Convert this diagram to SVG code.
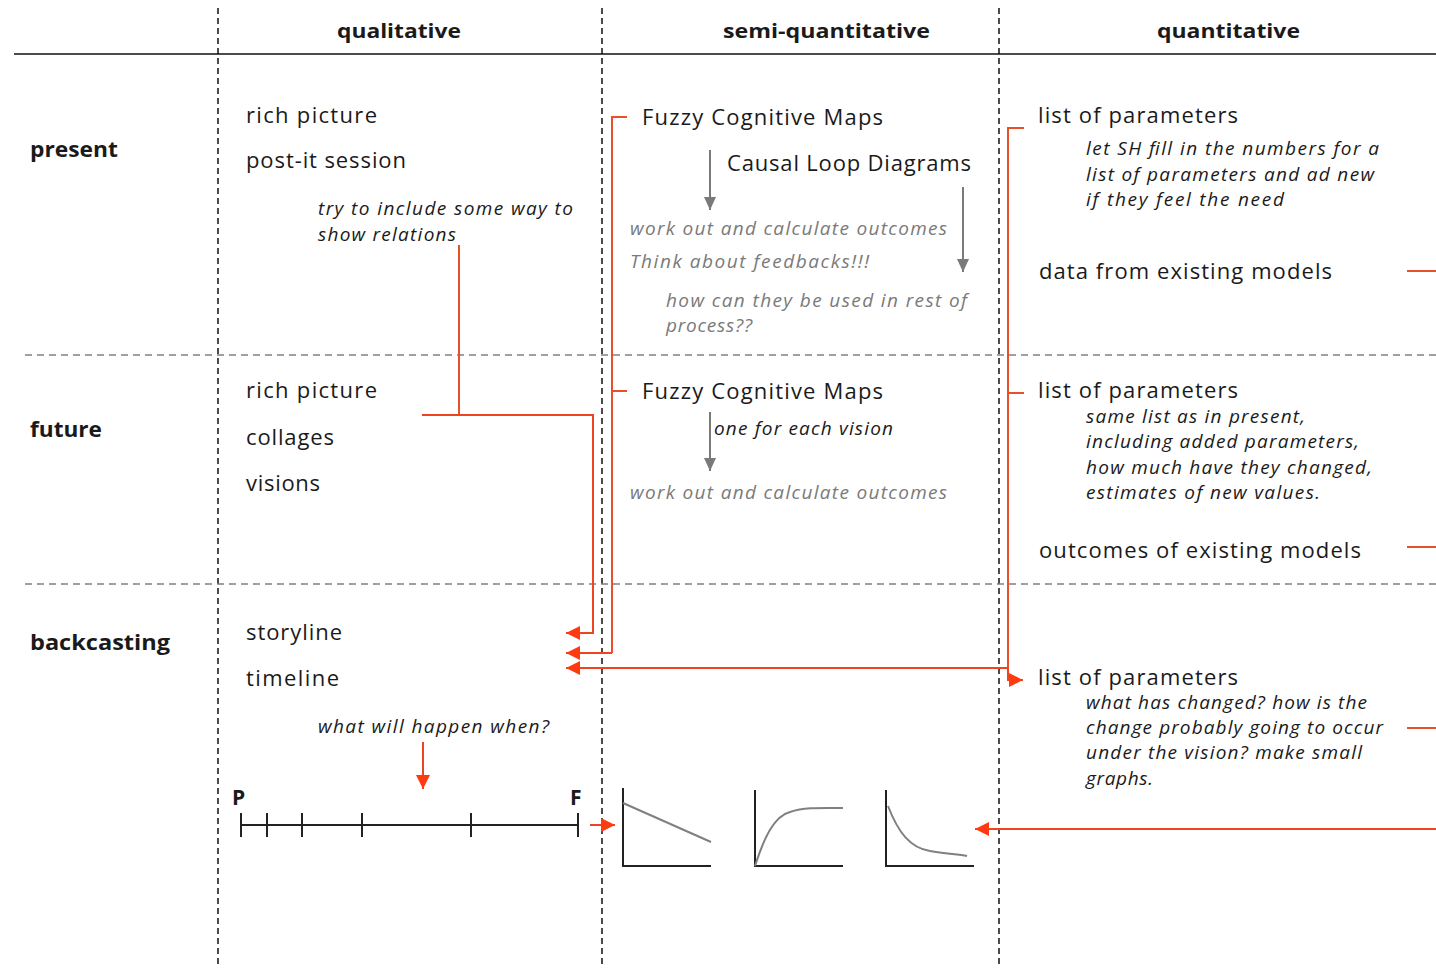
<svg xmlns="http://www.w3.org/2000/svg" width="1436" height="968" viewBox="0 0 1436 968">
  <style>
    text { font-family: "Open Sans", "Liberation Sans", sans-serif; fill: #1a1a1a; }
    .hd { font-size: 20px; font-weight: 700; }
    .row { font-size: 21px; font-weight: 700; }
    .item { font-size: 22px; }
    .note { font-size: 19px; font-style: italic; }
    .gray { fill: #7a7a7a; }
    .tl { font-size: 21px; font-weight: 700; }
    .col { stroke: #111; stroke-width: 1.5; stroke-dasharray: 6 4; fill: none; }
    .sep { stroke: #808080; stroke-width: 1.5; stroke-dasharray: 7 5; fill: none; }
    .wire { stroke: #e8502a; stroke-width: 2; fill: none; }
    .arrow { stroke: #ee4422; stroke-width: 2; fill: none; marker-end: url(#headRed); }
    .garrow { stroke: #7a7a7a; stroke-width: 2; fill: none; marker-end: url(#headGray); }
    .axis { stroke: #222; stroke-width: 2; fill: none; }
    .curve { stroke: #808080; stroke-width: 2; fill: none; }
  </style>
  <defs>
    <marker id="headRed" markerUnits="userSpaceOnUse" markerWidth="16" markerHeight="14" refX="14" refY="7" orient="auto">
      <path d="M0,0 L14,7 L0,14 Z" fill="#ff3a10"/>
    </marker>
    <marker id="headGray" markerUnits="userSpaceOnUse" markerWidth="15" markerHeight="14" refX="13" refY="7" orient="auto">
      <path d="M0,1 L13,7 L0,13 Z" fill="#7a7a7a"/>
    </marker>
  </defs>

  <rect width="1436" height="968" fill="#ffffff"/>

  <!-- grid: header rule, column and row separators -->
  <g id="grid">
    <line x1="14" y1="54" x2="1436" y2="54" stroke="#111" stroke-width="1.5"/>
    <line class="col" x1="218" y1="8" x2="218" y2="968"/>
    <line class="col" x1="602" y1="8" x2="602" y2="968"/>
    <line class="col" x1="999" y1="8" x2="999" y2="968"/>
    <line class="sep" x1="25" y1="355" x2="1436" y2="355"/>
    <line class="sep" x1="25" y1="584" x2="1436" y2="584"/>
  </g>

  <!-- column and row headings -->
  <g id="headings">
    <text class="hd" x="337" y="38" textLength="124" lengthAdjust="spacingAndGlyphs">qualitative</text>
    <text class="hd" x="723" y="38" textLength="207" lengthAdjust="spacingAndGlyphs">semi-quantitative</text>
    <text class="hd" x="1157" y="38" textLength="143" lengthAdjust="spacingAndGlyphs">quantitative</text>
    <text class="row" x="30" y="157" textLength="88" lengthAdjust="spacingAndGlyphs">present</text>
    <text class="row" x="30" y="437" textLength="72" lengthAdjust="spacingAndGlyphs">future</text>
    <text class="row" x="30" y="650" textLength="140" lengthAdjust="spacingAndGlyphs">backcasting</text>
  </g>

  <!-- present / qualitative -->
  <g id="present-qualitative">
    <text class="item" x="246" y="123" textLength="131" lengthAdjust="spacing">rich picture</text>
    <text class="item" x="246" y="168" textLength="160" lengthAdjust="spacing">post-it session</text>
    <text class="note" x="318" y="215" textLength="255" lengthAdjust="spacing">try to include some way to</text>
    <text class="note" x="318" y="241" textLength="138" lengthAdjust="spacing">show relations</text>
  </g>

  <!-- present / semi-quantitative -->
  <g id="present-semi">
    <text class="item" x="642" y="125" textLength="241" lengthAdjust="spacing">Fuzzy Cognitive Maps</text>
    <text class="item" x="727" y="171" textLength="244" lengthAdjust="spacing">Causal Loop Diagrams</text>
    <text class="note gray" x="630" y="235" textLength="317" lengthAdjust="spacing">work out and calculate outcomes</text>
    <text class="note gray" x="630" y="268" textLength="239" lengthAdjust="spacing">Think about feedbacks!!!</text>
    <text class="note gray" x="666" y="307" textLength="301" lengthAdjust="spacing">how can they be used in rest of</text>
    <text class="note gray" x="666" y="332" textLength="86" lengthAdjust="spacing">process??</text>
    <line class="garrow" x1="710" y1="150" x2="710" y2="210"/>
    <line class="garrow" x1="963" y1="187" x2="963" y2="272"/>
  </g>

  <!-- present / quantitative -->
  <g id="present-quant">
    <text class="item" x="1038" y="123" textLength="200" lengthAdjust="spacing">list of parameters</text>
    <text class="note" x="1086" y="155" textLength="293" lengthAdjust="spacing">let SH fill in the numbers for a</text>
    <text class="note" x="1086" y="181" textLength="288" lengthAdjust="spacing">list of parameters and ad new</text>
    <text class="note" x="1086" y="206" textLength="198" lengthAdjust="spacing">if they feel the need</text>
    <text class="item" x="1039" y="279" textLength="293" lengthAdjust="spacing">data from existing models</text>
  </g>

  <!-- future / qualitative -->
  <g id="future-qualitative">
    <text class="item" x="246" y="398" textLength="131" lengthAdjust="spacing">rich picture</text>
    <text class="item" x="246" y="445" textLength="88" lengthAdjust="spacing">collages</text>
    <text class="item" x="246" y="491" textLength="74" lengthAdjust="spacing">visions</text>
  </g>

  <!-- future / semi-quantitative -->
  <g id="future-semi">
    <text class="item" x="642" y="399" textLength="241" lengthAdjust="spacing">Fuzzy Cognitive Maps</text>
    <text class="note" x="714" y="435" textLength="179" lengthAdjust="spacing">one for each vision</text>
    <text class="note gray" x="630" y="499" textLength="317" lengthAdjust="spacing">work out and calculate outcomes</text>
    <line class="garrow" x1="710" y1="412" x2="710" y2="471"/>
  </g>

  <!-- future / quantitative -->
  <g id="future-quant">
    <text class="item" x="1038" y="398" textLength="200" lengthAdjust="spacing">list of parameters</text>
    <text class="note" x="1086" y="423" textLength="219" lengthAdjust="spacing">same list as in present,</text>
    <text class="note" x="1086" y="448" textLength="273" lengthAdjust="spacing">including added parameters,</text>
    <text class="note" x="1086" y="474" textLength="286" lengthAdjust="spacing">how much have they changed,</text>
    <text class="note" x="1086" y="499" textLength="234" lengthAdjust="spacing">estimates of new values.</text>
    <text class="item" x="1039" y="558" textLength="322" lengthAdjust="spacing">outcomes of existing models</text>
  </g>

  <!-- backcasting / qualitative -->
  <g id="backcasting-qualitative">
    <text class="item" x="246" y="640" textLength="96" lengthAdjust="spacing">storyline</text>
    <text class="item" x="246" y="686" textLength="93" lengthAdjust="spacing">timeline</text>
    <text class="note" x="318" y="733" textLength="231" lengthAdjust="spacing">what will happen when?</text>
  </g>

  <!-- timeline from present (P) to future (F) -->
  <g id="timeline">
    <text class="tl" x="232" y="805">P</text>
    <text class="tl" x="570" y="805">F</text>
    <line class="axis" x1="241" y1="825" x2="578" y2="825"/>
    <line class="axis" x1="241" y1="813" x2="241" y2="837"/>
    <line class="axis" x1="267" y1="813" x2="267" y2="837"/>
    <line class="axis" x1="302" y1="813" x2="302" y2="837"/>
    <line class="axis" x1="362" y1="813" x2="362" y2="837"/>
    <line class="axis" x1="471" y1="813" x2="471" y2="837"/>
    <line class="axis" x1="578" y1="813" x2="578" y2="837"/>
  </g>

  <!-- small trend graphs -->
  <g id="graphs">
    <path class="axis" d="M623,788 V866 H711"/>
    <path class="curve" d="M623,803 L711,842"/>
    <path class="axis" d="M755,790 V866 H843"/>
    <path class="curve" d="M755,866 C764,838 774,816 790,812 C805,807 822,808 843,808"/>
    <path class="axis" d="M886,790 V866 H974"/>
    <path class="curve" d="M888,806 C898,832 910,848 930,851 C945,854 958,854 967,856"/>
  </g>

  <!-- backcasting / quantitative -->
  <g id="backcasting-quant">
    <text class="item" x="1038" y="685" textLength="200" lengthAdjust="spacing">list of parameters</text>
    <text class="note" x="1086" y="709" textLength="281" lengthAdjust="spacing">what has changed? how is the</text>
    <text class="note" x="1086" y="734" textLength="297" lengthAdjust="spacing">change probably going to occur</text>
    <text class="note" x="1086" y="759" textLength="276" lengthAdjust="spacing">under the vision? make small</text>
    <text class="note" x="1086" y="785" textLength="67" lengthAdjust="spacing">graphs.</text>
  </g>

  <!-- connectors -->
  <g id="connectors">
    <!-- relations note to storyline -->
    <path class="wire" d="M459,245 V415"/>
    <path class="arrow" d="M422,415 H593 V633 H566"/>
    <!-- semi-quantitative bracket to timeline -->
    <path class="wire" d="M627,117 H612 V653"/>
    <path class="wire" d="M612,391 H627"/>
    <path class="arrow" d="M612,653 H566"/>
    <!-- quantitative bracket -->
    <path class="wire" d="M1024,128 H1008 V668"/>
    <path class="wire" d="M1008,393 H1024"/>
    <path class="arrow" d="M1008,668 H566"/>
    <path class="arrow" d="M1008,668 V680 H1023"/>
    <!-- note to timeline -->
    <path class="arrow" d="M423,742 V789"/>
    <!-- timeline to graphs -->
    <path class="arrow" d="M590,825 H615"/>
    <!-- incoming from the right -->
    <path class="arrow" d="M1436,829 H975"/>
    <path class="wire" d="M1407,271 H1436"/>
    <path class="wire" d="M1407,547 H1436"/>
    <path class="wire" d="M1407,728 H1436"/>
  </g>
</svg>
